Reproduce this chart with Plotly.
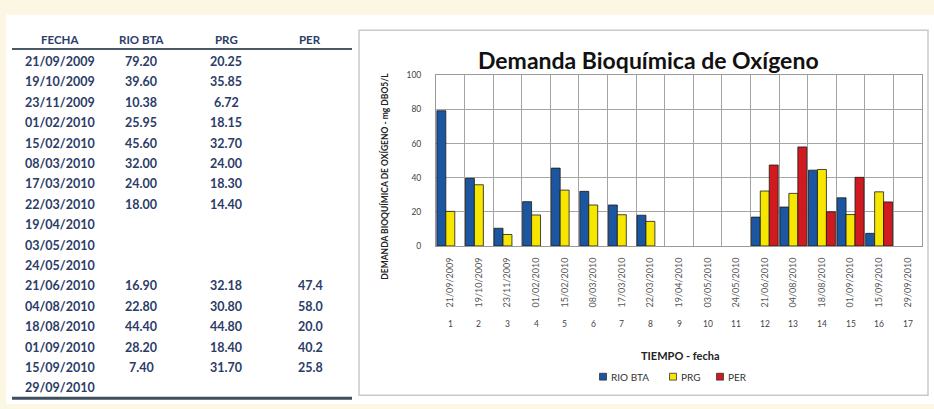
import plotly.graph_objects as go

fechas = ["21/09/2009", "19/10/2009", "23/11/2009", "01/02/2010", "15/02/2010",
          "08/03/2010", "17/03/2010", "22/03/2010", "19/04/2010", "03/05/2010",
          "24/05/2010", "21/06/2010", "04/08/2010", "18/08/2010", "01/09/2010",
          "15/09/2010", "29/09/2010"]
numeros = list(range(1, 18))
rio_bta = [79.20, 39.60, 10.38, 25.95, 45.60, 32.00, 24.00, 18.00, None, None,
           None, 16.90, 22.80, 44.40, 28.20, 7.40, None]
prg = [20.25, 35.85, 6.72, 18.15, 32.70, 24.00, 18.30, 14.40, None, None,
       None, 32.18, 30.80, 44.80, 18.40, 31.70, None]
per = [None, None, None, None, None, None, None, None, None, None,
       None, 47.4, 58.0, 20.0, 40.2, 25.8, None]

W, H = 934, 409
crema = "#fbf7e2"
tinta = "#2b3c68"


def px(x):
    return x / W


def py(y):
    return 1 - y / H


def nota(x, y, texto, size, color="#222", **kw):
    return dict(xref="paper", yref="paper", x=px(x), y=py(y), text=texto, showarrow=False,
                xanchor=kw.pop("xanchor", "center"), yanchor="middle",
                font=dict(family="Lato", size=size, color=color), **kw)


fig = go.Figure()
series = [("RIO BTA", rio_bta, "#1c55a0"), ("PRG", prg, "#f7e600"), ("PER", per, "#d01a1f")]
for nombre, vals, color in series:
    fig.add_trace(go.Bar(x=numeros, y=vals, name=nombre,
                         marker=dict(color=color, line=dict(color="#1a1a1a", width=0.8))))

shapes = [
    dict(type="rect", xref="paper", yref="paper", x0=px(6), x1=1, y0=0, y1=py(10),
         fillcolor="white", line=dict(width=0), layer="below"),
    dict(type="rect", xref="paper", yref="paper", x0=px(359), x1=px(928), y0=py(400), y1=py(26),
         fillcolor="white", line=dict(color="#c9c9c9", width=1.5), layer="below"),
    dict(type="line", xref="paper", yref="paper", x0=px(12), x1=px(352), y0=py(45), y1=py(45),
         line=dict(color="#4b5866", width=2)),
    dict(type="line", xref="paper", yref="paper", x0=px(12), x1=px(352), y0=py(403), y1=py(403),
         line=dict(color="#3f4f5e", width=3)),
]

annotations = []
# tabla
col_x = [60, 141, 226, 310]
encabezados = ["FECHA", "RIO BTA", "PRG", "PER"]
for cx, txt in zip(col_x, encabezados):
    annotations.append(nota(cx, 35, f"<b>{txt}</b>", 11.5, tinta))


def fmt(v, d):
    return "" if v is None else f"{v:.{d}f}"


for i, f in enumerate(fechas):
    fila = [f, fmt(rio_bta[i], 2), fmt(prg[i], 2), fmt(per[i], 1)]
    for cx, txt in zip(col_x, fila):
        if txt:
            annotations.append(nota(cx, 58 + 20.9 * i, f"<b>{txt}</b>", 12.5, tinta))

# numeros bajo el eje
for n in numeros:
    annotations.append(dict(xref="x", yref="paper", x=n, y=py(327), text=str(n), showarrow=False,
                            xanchor="center", yanchor="middle",
                            font=dict(family="Lato", size=8.5, color="#444")))

annotations.append(nota(680, 359, "<b>TIEMPO - fecha</b>", 11))
annotations.append(nota(385, 176, "<b>DEMANDA BIOQUÍMICA DE OXÍGENO - mg DBO5/L</b>", 8.5,
                        textangle=-90))
annotations.append(nota(648, 56, "<b>Demanda Bioquímica de Oxígeno</b>", 23, "#111"))

# leyenda
leyenda_x = [603, 673, 720]
for (nombre, _, color), lx in zip(series, leyenda_x):
    shapes.append(dict(type="rect", xref="paper", yref="paper", x0=px(lx - 3.5), x1=px(lx + 3.5),
                       y0=py(384.5), y1=py(377.5), fillcolor=color,
                       line=dict(color="#333", width=0.8)))
    annotations.append(nota(lx + 6, 381, nombre, 10, "#333", xanchor="left"))

fig.update_layout(
    width=W, height=H,
    margin=dict(l=0, r=0, t=0, b=0),
    paper_bgcolor=crema, plot_bgcolor="white",
    barmode="group", bargap=0.06, bargroupgap=0,
    showlegend=False,
    shapes=shapes,
    annotations=annotations,
    xaxis=dict(domain=[px(436), px(922)], range=[0.5, 17.5], tickmode="array",
               tickvals=numeros, ticktext=fechas, tickangle=-90, showgrid=False,
               tickfont=dict(family="Lato", size=9, color="#555"), ticklabelstandoff=7,
               minor=dict(tick0=0.5, dtick=1, showgrid=True, gridcolor="#a5a5a5", gridwidth=1),
               showline=True, linecolor="#999999", mirror=True, zeroline=False),
    yaxis=dict(domain=[py(247), py(72)], range=[0, 100], dtick=20, showgrid=True,
               gridcolor="#a5a5a5", gridwidth=1, showline=True, linecolor="#999999", mirror=True,
               tickfont=dict(family="Lato", size=8.5, color="#444"), ticklabelstandoff=12,
               zeroline=False),
    font=dict(family="Lato"),
)

fig.write_html("out.html", config={"displayModeBar": False},
               post_script="document.body.style.margin='0';")
